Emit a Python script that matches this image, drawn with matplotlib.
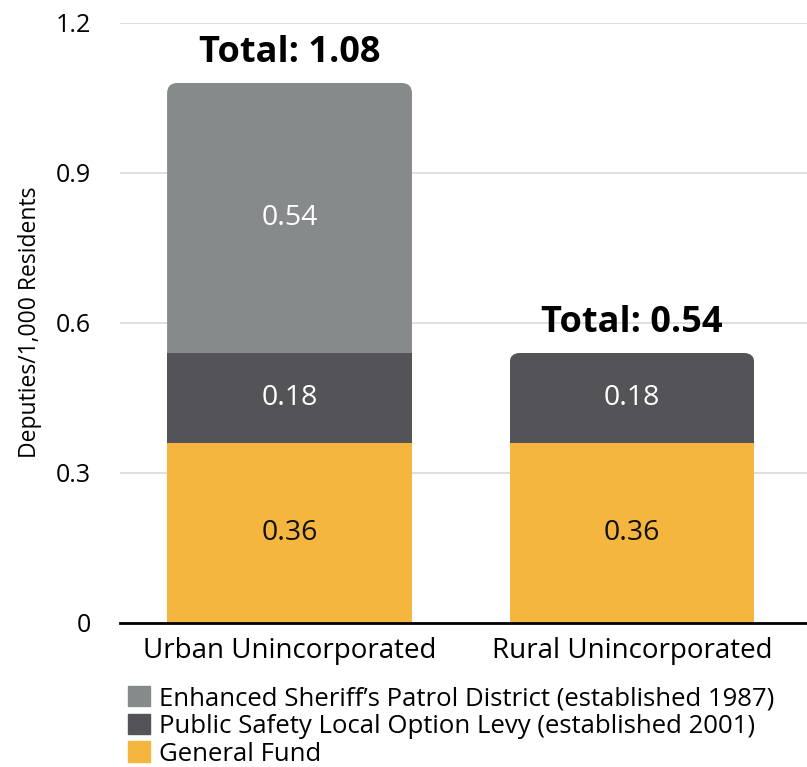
import matplotlib
matplotlib.use("Agg")
import matplotlib.pyplot as plt
from matplotlib.patches import FancyBboxPatch, Patch
import numpy as np

plt.rcParams["font.family"] = ["Open Sans", "DejaVu Sans"]

# Deputies per 1,000 residents by funding source
areas = ["Urban Unincorporated", "Rural Unincorporated"]
general_fund = [0.36, 0.36]
levy = [0.18, 0.18]
patrol_district = [0.54, 0.0]
totals = [1.08, 0.54]

series_labels = [
    "Enhanced Sheriff\u2019s Patrol District (established 1987)",
    "Public Safety Local Option Levy (established 2001)",
    "General Fund",
]
yticks = [0, 0.3, 0.6, 0.9, 1.2]
ytick_labels = ["0", "0.3", "0.6", "0.9", "1.2"]

GOLD = "#F4B63F"
DARK = "#535358"
GRAY = "#878A8A"

W, H = 807, 767
fig = plt.figure(figsize=(W / 100, H / 100), dpi=100)
ax = fig.add_axes([120 / W, (H - 623) / H, 1 - 120 / W, 600 / H])

x = np.arange(len(areas))
width = 0.715
ax.set_xlim(-0.495, 1.511)
ax.set_ylim(0, 1.2)

ax.set_yticks(yticks)
ax.set_yticklabels(ytick_labels, fontsize=18)
ax.yaxis.grid(True, color="#d9d9d9", linewidth=1.2)
ax.set_axisbelow(True)
ax.tick_params(axis="y", length=0, pad=21)
ax.tick_params(axis="x", length=0, pad=10, labelsize=20)
ax.set_xticks(x)
ax.set_xticklabels(areas)
for side in ("top", "right", "left"):
    ax.spines[side].set_visible(False)
ax.spines["bottom"].set_linewidth(2)
ax.spines["bottom"].set_zorder(5)
fig.text(30 / W, 1 - 322 / H, "Deputies/1,000 Residents", rotation=90,
         ha="center", va="center", fontsize=16.5)

b1 = ax.bar(x, general_fund, width, color=GOLD)
b2 = ax.bar(x, levy, width, bottom=general_fund, color=DARK)
bottom3 = np.add(general_fund, levy)
b3 = ax.bar(x, patrol_district, width, bottom=bottom3, color=GRAY)

# round the top corners of the highest segment in each stack
aspect = 0.002 * 342.5
for i, total in enumerate(totals):
    top_bar = b3[i] if patrol_district[i] > 0 else b2[i]
    clip = FancyBboxPatch((x[i] - width / 2, 0), width, total,
                          boxstyle="round,pad=0,rounding_size=0.03",
                          mutation_aspect=aspect, transform=ax.transData)
    top_bar.set_clip_path(clip)

for i in range(len(areas)):
    ax.text(x[i], general_fund[i] / 2, f"{general_fund[i]:.2f}",
            ha="center", va="center", fontsize=20.5, color="#111111")
    ax.text(x[i], general_fund[i] + levy[i] / 2, f"{levy[i]:.2f}",
            ha="center", va="center", fontsize=20.5, color="white")
    if patrol_district[i] > 0:
        ax.text(x[i], bottom3[i] + patrol_district[i] / 2, f"{patrol_district[i]:.2f}",
                ha="center", va="center", fontsize=20.5, color="white")
    ax.annotate(f"Total: {totals[i]:.2f}", (x[i], totals[i]),
                xytext=(0, 9), textcoords="offset points",
                ha="center", va="bottom", fontsize=26, fontweight="bold")

handles = [Patch(color=c) for c in (GRAY, DARK, GOLD)]
fig.legend(handles, series_labels, loc="upper left",
           bbox_to_anchor=(128 / W, 1 - 686 / H), frameon=False,
           fontsize=18.5, handlelength=0.85, handleheight=0.85,
           handletextpad=0.35, labelspacing=0.1, borderpad=0, borderaxespad=0)

fig.savefig("out.png", dpi=100)
